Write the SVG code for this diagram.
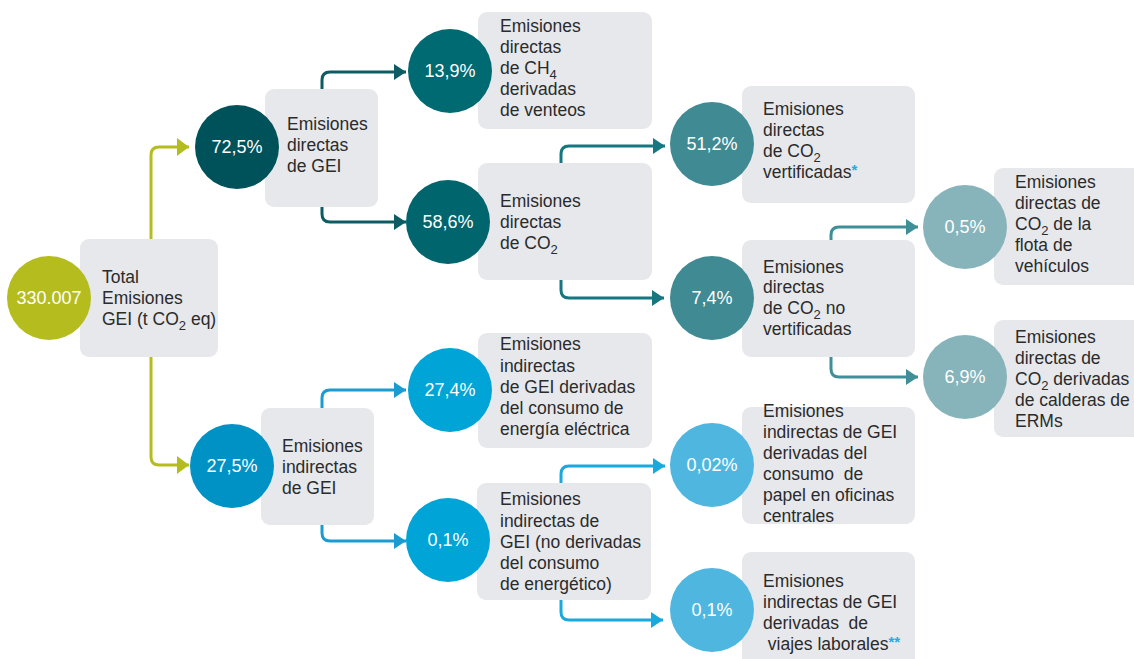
<svg xmlns="http://www.w3.org/2000/svg" width="1134" height="659" viewBox="0 0 1134 659">
<defs>
<style>
.box{fill:#e6e8eb}
.t{font-family:"Liberation Sans",Arial,sans-serif;font-size:17.5px;fill:#2b2b2b}
.c{font-family:"Liberation Sans",Arial,sans-serif;font-size:18px;fill:#ffffff;text-anchor:middle}
.sub{font-size:13px}
.ast{fill:#2aa9df;font-weight:bold}
.ln{fill:none;stroke-width:3}
</style>
<marker id="aOl" markerUnits="userSpaceOnUse" markerWidth="13" markerHeight="18" refX="12" refY="9" orient="auto"><path d="M0,0 L12,9 L0,18 Z" fill="#b5bd1e"/></marker>
<marker id="aD" markerUnits="userSpaceOnUse" markerWidth="13" markerHeight="18" refX="12" refY="9" orient="auto"><path d="M0,1 L12,9 L0,17 Z" fill="#0d5c63"/></marker>
<marker id="aM" markerUnits="userSpaceOnUse" markerWidth="13" markerHeight="18" refX="12" refY="9" orient="auto"><path d="M0,1 L12,9 L0,17 Z" fill="#167780"/></marker>
<marker id="aL" markerUnits="userSpaceOnUse" markerWidth="13" markerHeight="18" refX="12" refY="9" orient="auto"><path d="M0,1 L12,9 L0,17 Z" fill="#3e8f97"/></marker>
<marker id="aB" markerUnits="userSpaceOnUse" markerWidth="13" markerHeight="18" refX="12" refY="9" orient="auto"><path d="M0,1 L12,9 L0,17 Z" fill="#1a9cd0"/></marker>
<marker id="aC" markerUnits="userSpaceOnUse" markerWidth="13" markerHeight="18" refX="12" refY="9" orient="auto"><path d="M0,1 L12,9 L0,17 Z" fill="#1aa9dc"/></marker>
</defs>
<rect width="1134" height="659" fill="#ffffff"/>

<g id="connectors">
<path class="ln" stroke="#b5bd1e" d="M151,239 V155 Q151,147 159,147 H189" marker-end="url(#aOl)"/>
<path class="ln" stroke="#b5bd1e" d="M151,357 V457 Q151,465 159,465 H189" marker-end="url(#aOl)"/>
<path class="ln" stroke="#0d5c63" d="M322,89 V80 Q322,72 330,72 H406" marker-end="url(#aD)"/>
<path class="ln" stroke="#0d5c63" d="M322,207 V214 Q322,222 330,222 H406" marker-end="url(#aD)"/>
<path class="ln" stroke="#167780" d="M561,163 V154 Q561,146 569,146 H665" marker-end="url(#aM)"/>
<path class="ln" stroke="#167780" d="M561,280 V290 Q561,298 569,298 H664" marker-end="url(#aM)"/>
<path class="ln" stroke="#3e8f97" d="M831,240 V235 Q831,227 839,227 H918" marker-end="url(#aL)"/>
<path class="ln" stroke="#3e8f97" d="M831,357 V369 Q831,377 839,377 H918" marker-end="url(#aL)"/>
<path class="ln" stroke="#1a9cd0" d="M322,408 V398 Q322,390 330,390 H406" marker-end="url(#aB)"/>
<path class="ln" stroke="#1a9cd0" d="M322,525 V533 Q322,541 330,541 H406" marker-end="url(#aB)"/>
<path class="ln" stroke="#1aa9dc" d="M561,483 V474 Q561,466 569,466 H665" marker-end="url(#aC)"/>
<path class="ln" stroke="#1aa9dc" d="M561,600 V612 Q561,620 569,620 H663" marker-end="url(#aC)"/>
</g>

<g id="n-total">
<rect class="box" x="80" y="239" width="138" height="118" rx="9"/>
<circle cx="49" cy="298" r="42" fill="#b5bd1e"/>
<text class="c" x="49" y="304">330.007</text>
<text class="t" x="102" y="283">Total</text>
<text class="t" x="102" y="304">Emisiones</text>
<text class="t" x="102" y="325">GEI (t CO<tspan class="sub" dy="5">2</tspan><tspan dy="-5"> eq)</tspan></text>
</g>

<g id="n-directas-gei">
<rect class="box" x="265" y="89" width="113" height="118" rx="9"/>
<circle cx="237" cy="147" r="42" fill="#00525a"/>
<text class="c" x="237" y="153">72,5%</text>
<text class="t" x="287" y="130">Emisiones</text>
<text class="t" x="287" y="151">directas</text>
<text class="t" x="287" y="172">de GEI</text>
</g>

<g id="n-ch4">
<rect class="box" x="478" y="12" width="174" height="117" rx="9"/>
<circle cx="450" cy="71" r="42" fill="#006a72"/>
<text class="c" x="450" y="77">13,9%</text>
<text class="t" x="500" y="32">Emisiones</text>
<text class="t" x="500" y="53">directas</text>
<text class="t" x="500" y="74">de CH<tspan class="sub" dy="5">4</tspan></text>
<text class="t" x="500" y="95">derivadas</text>
<text class="t" x="500" y="116">de venteos</text>
</g>

<g id="n-co2">
<rect class="box" x="478" y="163" width="174" height="117" rx="9"/>
<circle cx="448" cy="222" r="42" fill="#00656d"/>
<text class="c" x="448" y="228">58,6%</text>
<text class="t" x="500" y="207">Emisiones</text>
<text class="t" x="500" y="228">directas</text>
<text class="t" x="500" y="249">de CO<tspan class="sub" dy="5">2</tspan></text>
</g>

<g id="n-co2-verif">
<rect class="box" x="742" y="86" width="173" height="117" rx="9"/>
<circle cx="712" cy="144" r="42" fill="#408a93"/>
<text class="c" x="712" y="150">51,2%</text>
<text class="t" x="763" y="115">Emisiones</text>
<text class="t" x="763" y="136">directas</text>
<text class="t" x="763" y="157">de CO<tspan class="sub" dy="5">2</tspan></text>
<text class="t" x="763" y="178">vertificadas<tspan class="ast" dy="-3" font-size="15">*</tspan></text>
</g>

<g id="n-co2-noverif">
<rect class="box" x="742" y="240" width="173" height="117" rx="9"/>
<circle cx="712" cy="298" r="42" fill="#408a93"/>
<text class="c" x="712" y="304">7,4%</text>
<text class="t" x="763" y="273">Emisiones</text>
<text class="t" x="763" y="293">directas</text>
<text class="t" x="763" y="314">de CO<tspan class="sub" dy="5">2</tspan><tspan dy="-5"> no</tspan></text>
<text class="t" x="763" y="335">vertificadas</text>
</g>

<g id="n-flota">
<rect class="box" x="994" y="168" width="150" height="117" rx="9"/>
<circle cx="965" cy="227" r="42" fill="#86b4ba"/>
<text class="c" x="965" y="233">0,5%</text>
<text class="t" x="1015" y="188">Emisiones</text>
<text class="t" x="1015" y="209">directas de</text>
<text class="t" x="1015" y="230">CO<tspan class="sub" dy="5">2</tspan><tspan dy="-5"> de la</tspan></text>
<text class="t" x="1015" y="251">flota de</text>
<text class="t" x="1015" y="272">vehículos</text>
</g>

<g id="n-calderas">
<rect class="box" x="994" y="320" width="150" height="117" rx="9"/>
<circle cx="965" cy="377" r="42" fill="#86b4ba"/>
<text class="c" x="965" y="383">6,9%</text>
<text class="t" x="1015" y="343">Emisiones</text>
<text class="t" x="1015" y="364">directas de</text>
<text class="t" x="1015" y="385">CO<tspan class="sub" dy="5">2</tspan><tspan dy="-5"> derivadas</tspan></text>
<text class="t" x="1015" y="406">de calderas de</text>
<text class="t" x="1015" y="427">ERMs</text>
</g>

<g id="n-indirectas-gei">
<rect class="box" x="261" y="408" width="113" height="117" rx="9"/>
<circle cx="232" cy="466" r="42" fill="#0091c5"/>
<text class="c" x="232" y="472">27,5%</text>
<text class="t" x="282" y="452">Emisiones</text>
<text class="t" x="282" y="473">indirectas</text>
<text class="t" x="282" y="494">de GEI</text>
</g>

<g id="n-electrica">
<rect class="box" x="478" y="333" width="174" height="115" rx="9"/>
<circle cx="450" cy="390" r="42" fill="#00a4d6"/>
<text class="c" x="450" y="396">27,4%</text>
<text class="t" x="500" y="350">Emisiones</text>
<text class="t" x="500" y="372">indirectas</text>
<text class="t" x="500" y="393">de GEI derivadas</text>
<text class="t" x="500" y="414">del consumo de</text>
<text class="t" x="500" y="435">energía eléctrica</text>
</g>

<g id="n-no-energetico">
<rect class="box" x="477" y="483" width="174" height="117" rx="9"/>
<circle cx="448" cy="540" r="42" fill="#00a4d6"/>
<text class="c" x="448" y="546">0,1%</text>
<text class="t" x="500" y="505">Emisiones</text>
<text class="t" x="500" y="527">indirectas de</text>
<text class="t" x="500" y="548">GEI (no derivadas</text>
<text class="t" x="500" y="569">del consumo</text>
<text class="t" x="500" y="590">de energético)</text>
</g>

<g id="n-papel">
<rect class="box" x="742" y="407" width="173" height="117" rx="9"/>
<circle cx="712" cy="465" r="42" fill="#4fb7df"/>
<text class="c" x="712" y="471">0,02%</text>
<text class="t" x="763" y="417">Emisiones</text>
<text class="t" x="763" y="438">indirectas de GEI</text>
<text class="t" x="763" y="459">derivadas del</text>
<text class="t" x="763" y="480" xml:space="preserve">consumo  de</text>
<text class="t" x="763" y="501">papel en oficinas</text>
<text class="t" x="763" y="522">centrales</text>
</g>

<g id="n-viajes">
<rect class="box" x="742" y="552" width="173" height="120" rx="9"/>
<circle cx="712" cy="610" r="42" fill="#4fb7df"/>
<text class="c" x="712" y="616">0,1%</text>
<text class="t" x="763" y="587">Emisiones</text>
<text class="t" x="763" y="608">indirectas de GEI</text>
<text class="t" x="763" y="629" xml:space="preserve">derivadas  de</text>
<text class="t" x="763" y="650" xml:space="preserve"> viajes laborales<tspan class="ast" dy="-3" font-size="15">**</tspan></text>
</g>
</svg>
